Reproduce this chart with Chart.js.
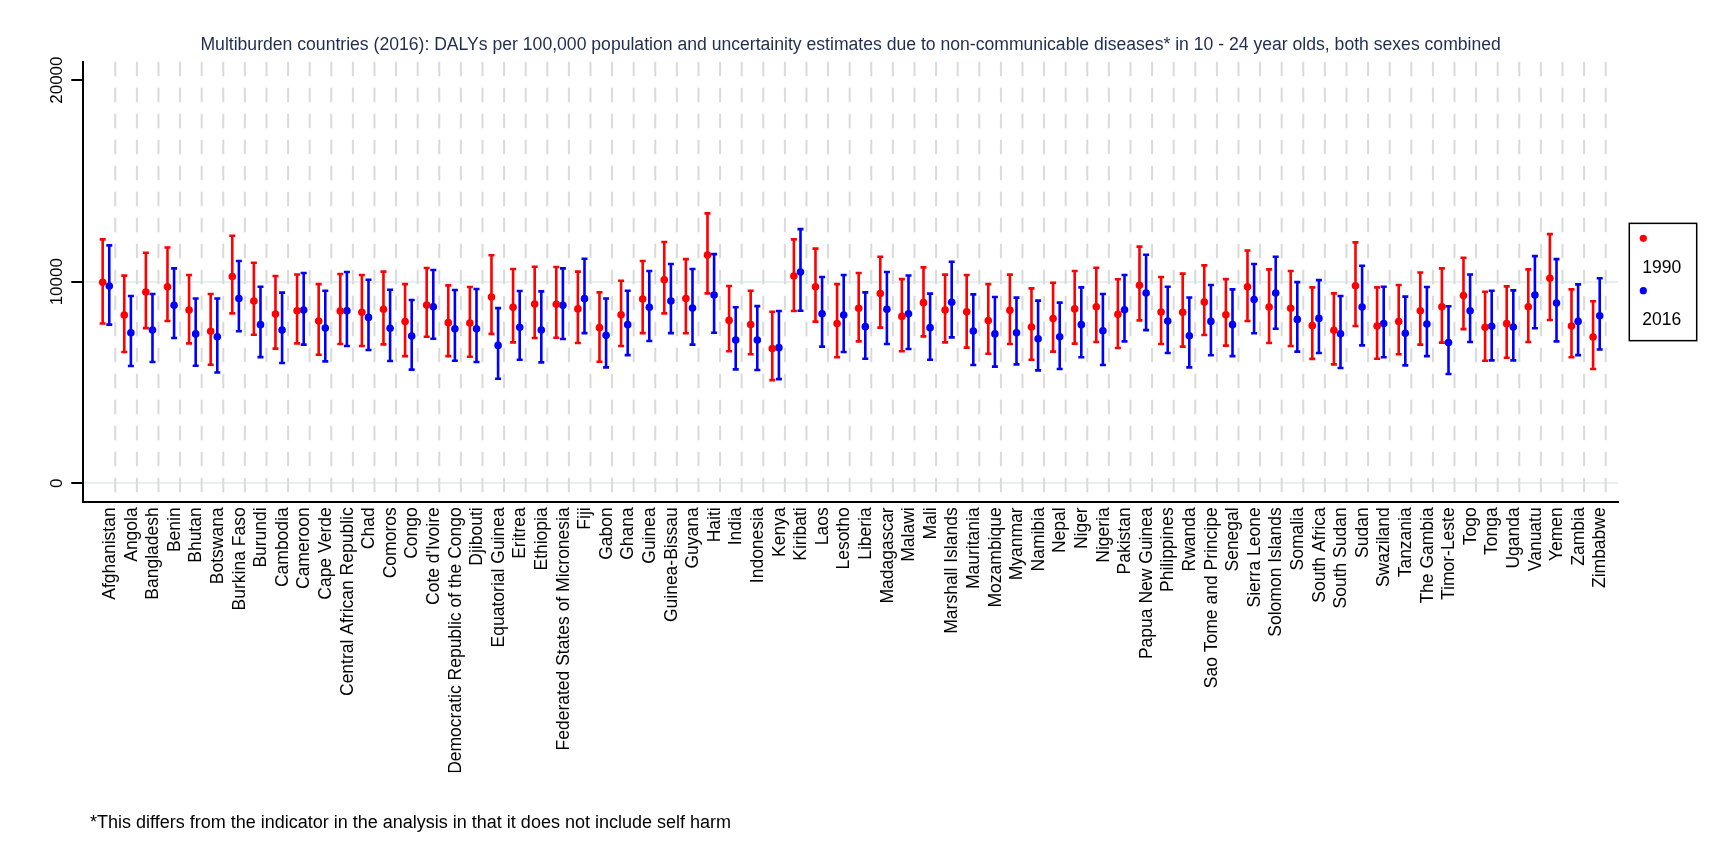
<!DOCTYPE html>
<html>
<head>
<meta charset="utf-8">
<title>Multiburden countries (2016)</title>
<script src="https://cdn.jsdelivr.net/npm/chart.js@4.4.1/dist/chart.umd.min.js"></script>
<style>
body{margin:0;background:#fff;}
#wrap{position:relative;width:1727px;height:863px;}
#note{position:absolute;left:90px;top:812px;font:18px "Liberation Sans",Arial,sans-serif;color:#000;white-space:nowrap;}
</style>
</head>
<body>
<div id="wrap">
  <canvas id="chart"></canvas>
  <div id="note">*This differs from the indicator in the analysis in that it does not include self harm</div>
</div>
<script>
const countries=["Afghanistan","Angola","Bangladesh","Benin","Bhutan","Botswana","Burkina Faso","Burundi","Cambodia","Cameroon",
"Cape Verde","Central African Republic","Chad","Comoros","Congo","Cote d'Ivoire","Democratic Republic of the Congo","Djibouti","Equatorial Guinea","Eritrea",
"Ethiopia","Federated States of Micronesia","Fiji","Gabon","Ghana","Guinea","Guinea-Bissau","Guyana","Haiti","India",
"Indonesia","Kenya","Kiribati","Laos","Lesotho","Liberia","Madagascar","Malawi","Mali","Marshall Islands",
"Mauritania","Mozambique","Myanmar","Namibia","Nepal","Niger","Nigeria","Pakistan","Papua New Guinea","Philippines",
"Rwanda","Sao Tome and Principe","Senegal","Sierra Leone","Solomon Islands","Somalia","South Africa","South Sudan","Sudan","Swaziland",
"Tanzania","The Gambia","Timor-Leste","Togo","Tonga","Uganda","Vanuatu","Yemen","Zambia","Zimbabwe"];

// 1990
const mean1990=[9970,8350,9490,9750,8600,7540,10260,9040,8400,8560,8050,8550,8480,8630,8020,8840,7970,7950,9240,8730,
8890,8880,8650,7720,8360,9140,10100,9170,11320,8080,7880,6690,10280,9750,7930,8680,9410,8280,8960,8600,
8510,8070,8580,7750,8170,8650,8760,8380,9820,8500,8480,8990,8360,9750,8740,8680,7820,7590,9800,7800,
8020,8560,8760,9310,7740,7920,8760,10170,7800,7260];
const hi1990=[12100,10300,11440,11700,10330,9390,12280,10940,10280,10360,9880,10380,10330,10500,9880,10680,9820,9740,11310,10630,
10740,10730,10500,9470,10050,11030,11970,11120,13390,9790,9550,8510,12100,11640,9880,10430,11240,10130,10710,10350,
10330,9880,10350,9670,9950,10530,10690,10120,11740,10230,10400,10810,10130,11550,10610,10530,9720,9420,11950,9720,
9840,10460,10660,11190,9500,9770,10610,12360,9620,9030];
const lo1990=[7930,6510,7700,8050,6940,5880,8430,7370,6680,6940,6380,6910,6810,6890,6310,7270,6310,6280,7410,6990,
7210,7220,6960,6030,6810,7450,8430,7440,9420,6550,6400,5120,8550,8020,6250,7040,7720,6550,7290,6990,
6730,6430,6910,6130,6530,6930,7010,6710,8080,6910,6780,7360,6830,8050,6960,6810,6170,5900,7800,6180,
6400,6880,6980,7650,6080,6230,7010,8100,6250,5670];

// 2016
const mean2016=[9790,7470,7600,8830,7410,7270,9170,7870,7600,8600,7700,8560,8230,7690,7310,8760,7670,7670,6840,7740,
7600,8830,9160,7340,7870,8730,9040,8690,9340,7110,7110,6730,10480,8410,8350,7770,8630,8410,7720,8980,
7550,7410,7470,7170,7270,7870,7570,8610,9440,8050,7320,8030,7870,9120,9440,8130,8180,7420,8740,7930,
7440,7900,6980,8560,7790,7750,9340,8940,8030,8310];
const hi2016=[11800,9290,9390,10660,9170,9170,11030,9750,9460,10430,9550,10480,10100,9600,9090,10580,9590,9640,8690,9540,
9520,10660,11140,9170,9550,10530,10880,10630,11370,8730,8790,8550,12610,10230,10330,9470,10480,10310,9410,10990,
9370,9240,9210,9060,8960,9720,9390,10330,11340,9750,9220,9840,9620,10880,11240,9980,10080,9290,10790,9750,
9260,9740,8780,10360,9550,9570,11270,11120,9870,10170];
const lo2016=[7870,5820,6020,7210,5830,5500,7540,6260,5970,6880,6050,6810,6610,6070,5640,7170,6080,6020,5190,6130,
6000,7160,7450,5750,6360,7060,7450,6880,7470,5650,5620,5170,8560,6780,6510,6180,6910,6660,6130,7240,
5870,5790,5900,5600,5670,6250,5870,7040,7600,6460,5750,6350,6310,7440,7670,6530,6460,5720,6840,6250,
5850,6310,5420,7010,6100,6100,7690,7040,6360,6640];

const yTicks=[0,10000,20000];

const FONT='"Liberation Sans", Arial, sans-serif';
const ctx=document.querySelector("#chart").getContext('2d');

// dashed vertical lines between countries
const dashLines={
  id:'dashLines',
  beforeDatasetsDraw(chart){
    const {ctx,chartArea,scales:{x}}=chart;
    ctx.save();
    ctx.strokeStyle='#dadada';
    ctx.lineWidth=2;
    ctx.setLineDash([14.5,11.5]);
    countries.forEach((c,i)=>{
      const px=x.getPixelForValue(i+0.43);
      ctx.beginPath();
      ctx.moveTo(px,chartArea.top);
      ctx.lineTo(px,chartArea.bottom);
      ctx.stroke();
    });
    ctx.restore();
  }
};

// uncertainty intervals with caps
const errorBars={
  id:'errorBars',
  beforeDatasetsDraw(chart){
    const {ctx,scales:{x,y}}=chart;
    chart.data.datasets.forEach(ds=>{
      ctx.save();
      ctx.strokeStyle=ds.backgroundColor;
      ctx.lineWidth=2.6;
      ds.data.forEach((p,i)=>{
        const px=x.getPixelForValue(p.x);
        const top=y.getPixelForValue(ds.hi[i]);
        const bot=y.getPixelForValue(ds.lo[i]);
        ctx.beginPath();
        ctx.moveTo(px,top);ctx.lineTo(px,bot);
        ctx.moveTo(px-3,top);ctx.lineTo(px+3,top);
        ctx.moveTo(px-3,bot);ctx.lineTo(px+3,bot);
        ctx.stroke();
      });
      ctx.restore();
    });
  }
};

// rotated y tick labels + boxed legend
const extras={
  id:'extras',
  afterDraw(chart){
    const {ctx,chartArea,scales:{y}}=chart;
    ctx.save();
    ctx.fillStyle='#000';
    ctx.font='17px '+FONT;
    ctx.textAlign='center';
    ctx.textBaseline='middle';
    y.ticks.forEach(t=>{
      ctx.save();
      ctx.translate(chartArea.left-26,y.getPixelForValue(t.value));
      ctx.rotate(-Math.PI/2);
      ctx.fillText(String(t.value),0,0);
      ctx.restore();
    });

    const w=67.4,h=117.3;
    const left=chartArea.right+11.3;
    const top=(chartArea.top+chartArea.bottom)/2-h/2;
    ctx.strokeStyle='#000';
    ctx.lineWidth=1.5;
    ctx.strokeRect(left,top,w,h);
    ctx.textAlign='left';
    ctx.font='17.5px '+FONT;
    chart.data.datasets.forEach((ds,k)=>{
      const dy=top+15+k*52.3;
      ctx.fillStyle=ds.backgroundColor;
      ctx.beginPath();
      ctx.arc(left+14,dy,3.6,0,Math.PI*2);
      ctx.fill();
      ctx.fillStyle='#000';
      ctx.fillText(ds.label,left+13,dy+29.5);
    });
    ctx.restore();
  }
};

new Chart(ctx,{
  type:'scatter',
  data:{
    datasets:[
      {label:'1990',data:mean1990.map((v,i)=>({x:i-0.153,y:v})),hi:hi1990,lo:lo1990,
       backgroundColor:'#ff0000',borderColor:'#ff0000',pointRadius:3.8,pointBorderWidth:0,pointHoverRadius:3.8},
      {label:'2016',data:mean2016.map((v,i)=>({x:i+0.153,y:v})),hi:hi2016,lo:lo2016,
       backgroundColor:'#0000ff',borderColor:'#0000ff',pointRadius:3.8,pointBorderWidth:0,pointHoverRadius:3.8}
    ]
  },
  options:{
    responsive:true,
    maintainAspectRatio:false,
    animation:false,
    layout:{padding:{left:71.3,right:109,top:0,bottom:90.7}},
    plugins:{
      legend:{display:false},
      tooltip:{enabled:false},
      title:{
        display:true,
        fullSize:false,
        text:'Multiburden countries (2016): DALYs per 100,000 population and uncertainity estimates due to non-communicable diseases* in 10 - 24 year olds, both sexes combined',
        color:'#1f2d4f',
        font:{family:FONT,size:17.6,weight:'normal'},
        padding:{top:34.6,bottom:6}
      }
    },
    scales:{
      x:{
        type:'linear',
        min:-1.05,
        max:70,
        afterBuildTicks:s=>{s.ticks=countries.map((c,i)=>({value:i+0.19}));},
        afterFit:s=>{s.height=270;},
        grid:{display:false,drawTicks:false},
        border:{color:'#000',width:2},
        ticks:{
          autoSkip:false,
          minRotation:90,
          maxRotation:90,
          padding:5,
          color:'#000',
          font:{family:FONT,size:17.5},
          callback:(v,i)=>countries[i]
        }
      },
      y:{
        min:-942,
        max:20912,
        afterBuildTicks:s=>{s.ticks=yTicks.map(v=>({value:v}));},
        grid:{
          color:c=>(c.tick&&c.tick.value===20000)?'rgba(0,0,0,0)':'#e6eff1',
          lineWidth:2,
          tickLength:12,
          tickColor:'#000',
          tickWidth:2
        },
        border:{color:'#000',width:2},
        ticks:{display:false}
      }
    }
  },
  plugins:[dashLines,errorBars,extras]
});
</script>
</body>
</html>
